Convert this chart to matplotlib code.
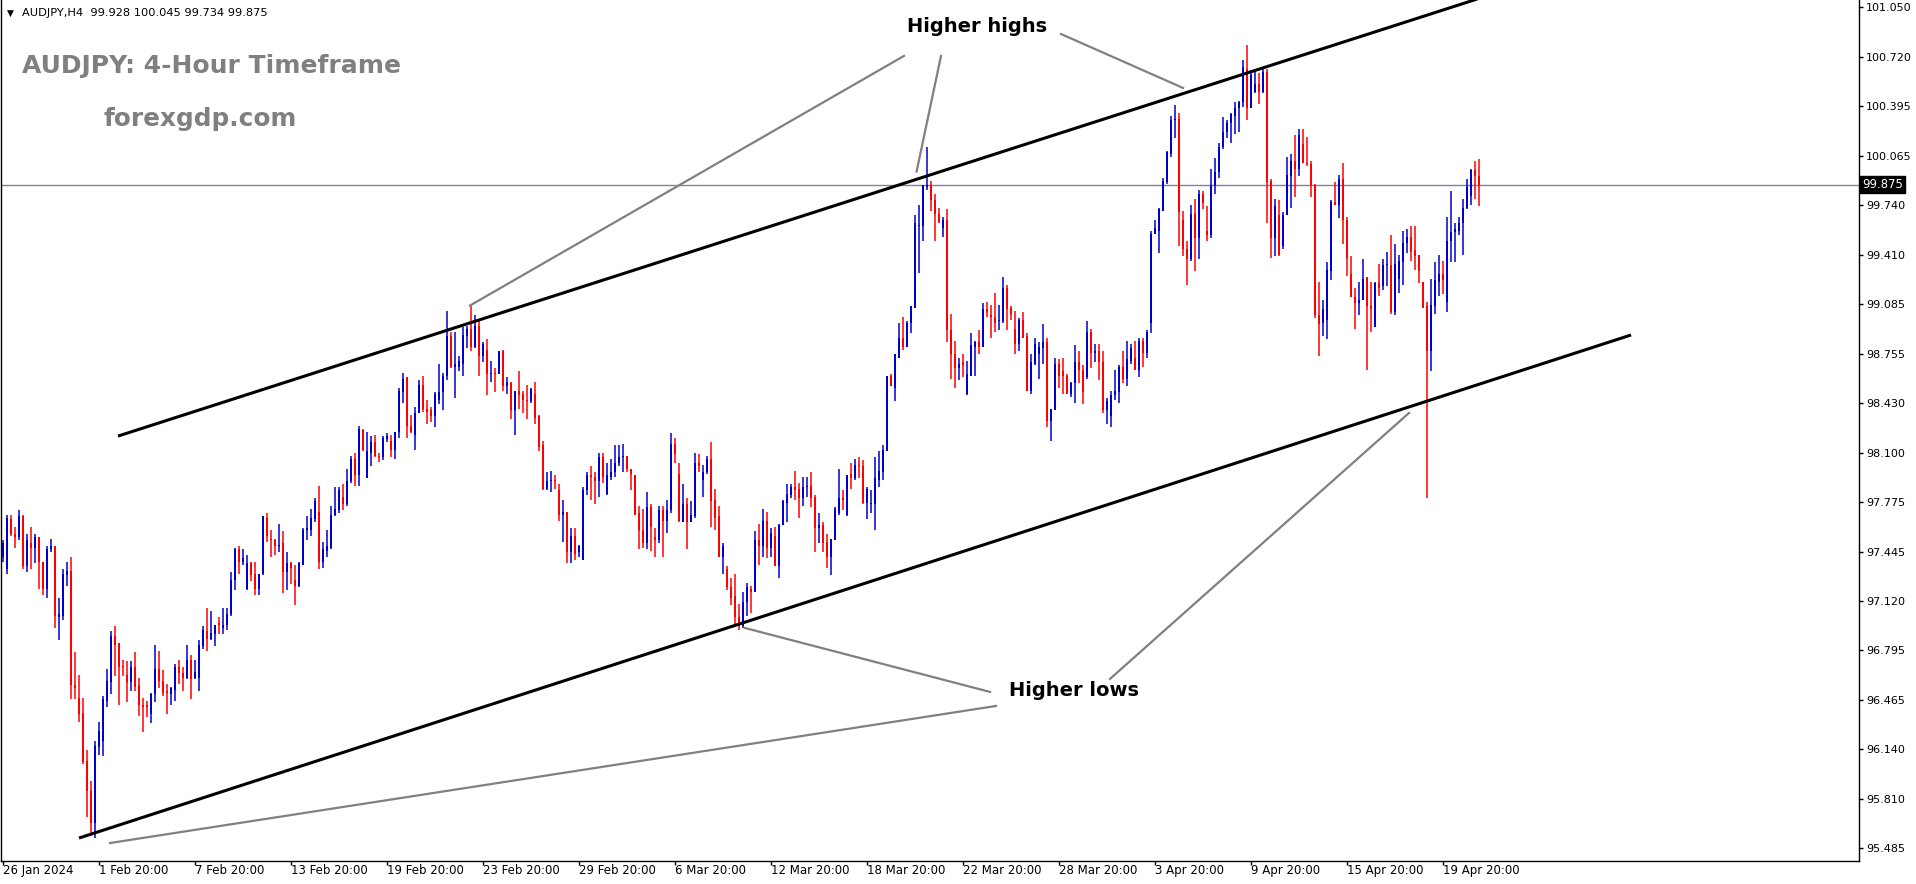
import matplotlib
matplotlib.use("Agg")
import matplotlib.pyplot as plt
import matplotlib.transforms as mtransforms
import numpy as np

# AUDJPY H4 candles (bar 0 = 26 Jan 20:00)
o = [97.41, 97.33, 97.66, 97.56, 97.54, 97.68, 97.35, 97.50, 97.47, 97.54,
     97.38, 97.20, 97.46, 97.48, 97.01, 97.02, 97.29, 97.32, 96.56, 96.48,
     96.38, 96.06, 95.86, 95.65, 96.15, 96.19, 96.46, 96.58, 96.89, 96.84,
     96.69, 96.63, 96.58, 96.68, 96.56, 96.43, 96.43, 96.37, 96.50, 96.67,
     96.59, 96.52, 96.50, 96.53, 96.68, 96.64, 96.61, 96.73, 96.61, 96.61,
     96.82, 96.92, 96.87, 96.90, 96.97, 96.94, 96.96, 97.03, 97.26, 97.46,
     97.38, 97.20, 97.37, 97.30, 97.20, 97.30, 97.67, 97.53, 97.52, 97.48,
     97.50, 97.31, 97.37, 97.26, 97.22, 97.36, 97.59, 97.59, 97.66, 97.71,
     97.38, 97.45, 97.47, 97.69, 97.72, 97.81, 97.76, 97.91, 98.06, 97.95,
     98.25, 97.93, 98.10, 98.17, 98.08, 98.07, 98.19, 98.18, 98.12, 98.24,
     98.50, 98.60, 98.28, 98.22, 98.36, 98.55, 98.39, 98.38, 98.34, 98.45,
     98.50, 98.61, 98.87, 98.67, 98.67, 98.69, 98.87, 98.92, 98.80, 98.94,
     98.74, 98.78, 98.62, 98.63, 98.62, 98.77, 98.54, 98.56, 98.38, 98.51,
     98.49, 98.45, 98.44, 98.49, 98.34, 98.15, 97.86, 97.91, 97.92, 97.85,
     97.69, 97.71, 97.44, 97.55, 97.44, 97.39, 97.85, 97.95, 97.94, 97.91,
     98.07, 97.83, 97.94, 97.97, 98.03, 98.07, 98.08, 97.99, 97.95, 97.70,
     97.59, 97.50, 97.74, 97.54, 97.52, 97.72, 97.65, 97.72, 98.16, 97.96,
     97.64, 97.76, 97.64, 97.68, 98.03, 97.92, 97.97, 98.06, 97.79, 97.68,
     97.41, 97.33, 97.21, 97.15, 97.01, 96.95, 97.11, 97.20, 97.18, 97.52,
     97.48, 97.65, 97.47, 97.55, 97.35, 97.62, 97.77, 97.82, 97.87, 97.86,
     97.80, 97.87, 97.88, 97.81, 97.60, 97.62, 97.51, 97.41, 97.52, 97.70,
     97.80, 97.69, 97.96, 97.93, 98.02, 98.01, 97.77, 97.76, 97.76, 97.92,
     97.97, 98.11, 98.61, 98.53, 98.73, 98.86, 98.80, 98.96, 99.06, 99.60,
     99.60, 99.86, 99.87, 99.77, 99.68, 99.59, 99.64, 98.91, 98.75, 98.66,
     98.70, 98.49, 98.61, 98.80, 98.83, 98.80, 99.05, 99.01, 99.00, 98.97,
     98.97, 99.19, 99.06, 98.92, 98.82, 98.98, 98.87, 98.51, 98.69, 98.75,
     98.79, 98.83, 98.31, 98.38, 98.69, 98.64, 98.61, 98.49, 98.56, 98.70,
     98.65, 98.60, 98.90, 98.76, 98.77, 98.70, 98.38, 98.34, 98.48, 98.50,
     98.67, 98.59, 98.71, 98.73, 98.65, 98.84, 98.76, 98.96, 99.55, 99.57,
     99.70, 99.89, 100.08, 100.30, 100.31, 99.64, 99.45, 99.38, 99.68, 99.52,
     99.81, 99.57, 99.54, 99.87, 99.96, 100.12, 100.22, 100.28, 100.33, 100.38,
     100.42, 100.64, 100.38, 100.49, 100.54, 100.49, 100.62, 99.90, 99.52, 99.67,
     99.47, 99.67, 99.93, 100.03, 99.98, 100.14, 100.02, 100.01, 99.87, 99.01,
     98.96, 98.98, 99.30, 99.76, 99.74, 99.91, 99.64, 99.28, 99.13, 99.09,
     99.11, 99.26, 99.07, 98.93, 99.22, 99.20, 99.34, 99.34, 99.03, 99.25,
     99.36, 99.49, 99.53, 99.44, 99.41, 99.23, 99.07, 98.77, 99.07, 99.23,
     99.28, 99.10, 99.50, 99.56, 99.57, 99.62, 99.72, 99.80, 99.97, 99.928]

h = [97.52, 97.69, 97.69, 97.61, 97.72, 97.69, 97.56, 97.61, 97.56, 97.54,
     97.38, 97.48, 97.53, 97.48, 97.14, 97.33, 97.38, 97.41, 96.78, 96.63,
     96.48, 96.13, 95.93, 96.19, 96.32, 96.49, 96.67, 96.92, 96.95, 96.84,
     96.73, 96.72, 96.72, 96.78, 96.61, 96.48, 96.46, 96.51, 96.83, 96.79,
     96.66, 96.57, 96.55, 96.70, 96.73, 96.68, 96.83, 96.76, 96.73, 96.86,
     96.95, 97.07, 97.05, 96.96, 97.01, 97.07, 97.07, 97.31, 97.47, 97.48,
     97.46, 97.42, 97.38, 97.38, 97.30, 97.68, 97.70, 97.59, 97.53, 97.63,
     97.58, 97.44, 97.38, 97.36, 97.38, 97.60, 97.68, 97.73, 97.80, 97.88,
     97.51, 97.59, 97.75, 97.87, 97.87, 97.89, 97.99, 98.08, 98.10, 98.28,
     98.26, 98.24, 98.21, 98.22, 98.10, 98.21, 98.23, 98.22, 98.24, 98.53,
     98.63, 98.60, 98.35, 98.40, 98.58, 98.61, 98.45, 98.40, 98.50, 98.69,
     98.63, 99.04, 98.90, 98.90, 98.74, 98.93, 98.94, 99.07, 99.01, 98.98,
     98.83, 98.85, 98.71, 98.66, 98.77, 98.78, 98.60, 98.57, 98.51, 98.64,
     98.51, 98.55, 98.53, 98.57, 98.35, 98.18, 97.97, 97.98, 97.95, 97.89,
     97.79, 97.71, 97.60, 97.60, 97.49, 97.87, 97.97, 98.01, 97.97, 98.10,
     98.10, 98.03, 98.06, 98.15, 98.15, 98.16, 98.08, 97.99, 97.95, 97.75,
     97.73, 97.84, 97.76, 97.60, 97.75, 97.75, 97.79, 98.23, 98.20, 98.03,
     97.89, 97.80, 97.78, 98.10, 98.09, 98.02, 98.08, 98.17, 97.86, 97.75,
     97.50, 97.35, 97.27, 97.30, 97.10, 97.18, 97.24, 97.22, 97.58, 97.63,
     97.73, 97.71, 97.60, 97.61, 97.63, 97.79, 97.89, 97.89, 97.98, 97.90,
     97.94, 97.94, 97.97, 97.82, 97.70, 97.64, 97.56, 97.53, 97.74, 97.99,
     97.85, 97.95, 98.03, 98.06, 98.07, 98.05, 97.87, 97.85, 98.07, 98.11,
     98.15, 98.61, 98.62, 98.75, 98.96, 99.00, 98.97, 99.07, 99.67, 99.74,
     99.87, 100.12, 99.90, 99.81, 99.72, 99.66, 99.71, 99.02, 98.84, 98.73,
     98.75, 98.71, 98.89, 98.84, 98.91, 99.09, 99.10, 99.08, 99.16, 99.08,
     99.26, 99.21, 99.07, 99.04, 98.99, 99.03, 98.89, 98.75, 98.86, 98.83,
     98.95, 98.86, 98.39, 98.73, 98.72, 98.73, 98.62, 98.57, 98.81, 98.77,
     98.68, 98.97, 98.92, 98.82, 98.82, 98.77, 98.46, 98.51, 98.65, 98.68,
     98.77, 98.84, 98.82, 98.84, 98.86, 98.86, 98.91, 99.57, 99.64, 99.72,
     99.92, 100.10, 100.33, 100.40, 100.35, 99.70, 99.50, 99.74, 99.78, 99.84,
     99.83, 99.73, 99.98, 100.05, 100.15, 100.32, 100.30, 100.35, 100.42, 100.43,
     100.70, 100.80, 100.63, 100.63, 100.61, 100.65, 100.64, 99.91, 99.78, 99.77,
     99.69, 100.06, 100.08, 100.20, 100.24, 100.24, 100.19, 100.03, 99.88, 99.23,
     99.11, 99.36, 99.77, 99.89, 99.94, 100.02, 99.66, 99.40, 99.19, 99.23,
     99.38, 99.26, 99.23, 99.23, 99.35, 99.38, 99.43, 99.54, 99.48, 99.41,
     99.57, 99.58, 99.60, 99.60, 99.41, 99.23, 99.10, 99.25, 99.36, 99.41,
     99.37, 99.66, 99.83, 99.62, 99.66, 99.78, 99.91, 99.98, 100.03, 100.045]

l = [97.38, 97.30, 97.55, 97.47, 97.52, 97.33, 97.31, 97.33, 97.37, 97.20,
     97.16, 97.14, 97.44, 96.94, 96.86, 96.99, 97.22, 96.47, 96.47, 96.32,
     96.04, 95.69, 95.58, 95.55, 96.10, 96.09, 96.42, 96.50, 96.62, 96.43,
     96.62, 96.45, 96.52, 96.52, 96.36, 96.25, 96.35, 96.31, 96.45, 96.54,
     96.49, 96.37, 96.43, 96.46, 96.57, 96.52, 96.60, 96.47, 96.60, 96.52,
     96.80, 96.79, 96.86, 96.82, 96.90, 96.90, 96.93, 97.02, 97.19, 97.30,
     97.36, 97.19, 97.25, 97.16, 97.16, 97.29, 97.51, 97.41, 97.42, 97.44,
     97.17, 97.19, 97.23, 97.09, 97.21, 97.36, 97.52, 97.55, 97.64, 97.33,
     97.34, 97.41, 97.46, 97.68, 97.70, 97.72, 97.75, 97.90, 97.88, 97.88,
     98.11, 97.93, 98.01, 98.07, 98.04, 98.05, 98.17, 98.07, 98.06, 98.20,
     98.43, 98.20, 98.23, 98.12, 98.36, 98.37, 98.29, 98.30, 98.27, 98.42,
     98.38, 98.58, 98.66, 98.46, 98.64, 98.61, 98.79, 98.77, 98.79, 98.61,
     98.70, 98.48, 98.57, 98.50, 98.62, 98.51, 98.49, 98.32, 98.22, 98.39,
     98.36, 98.32, 98.43, 98.29, 98.11, 97.85, 97.85, 97.84, 97.86, 97.65,
     97.51, 97.37, 97.37, 97.39, 97.41, 97.39, 97.82, 97.79, 97.76, 97.81,
     97.90, 97.82, 97.92, 97.94, 98.01, 97.97, 97.97, 97.85, 97.69, 97.46,
     97.47, 97.46, 97.45, 97.41, 97.50, 97.41, 97.57, 97.70, 98.03, 97.64,
     97.64, 97.46, 97.64, 97.67, 97.97, 97.81, 97.96, 97.61, 97.59, 97.41,
     97.30, 97.19, 97.09, 96.95, 96.93, 96.94, 97.02, 97.04, 97.18, 97.36,
     97.41, 97.40, 97.41, 97.35, 97.27, 97.62, 97.64, 97.80, 97.79, 97.67,
     97.75, 97.81, 97.74, 97.44, 97.50, 97.44, 97.34, 97.29, 97.52, 97.69,
     97.72, 97.68, 97.86, 97.92, 97.93, 97.76, 97.66, 97.70, 97.59, 97.87,
     97.92, 98.11, 98.54, 98.44, 98.73, 98.78, 98.80, 98.89, 99.06, 99.29,
     99.50, 99.84, 99.70, 99.50, 99.62, 99.53, 98.83, 98.59, 98.53, 98.58,
     98.60, 98.48, 98.61, 98.61, 98.75, 98.80, 99.00, 98.86, 98.90, 98.91,
     98.96, 98.91, 98.98, 98.75, 98.77, 98.86, 98.51, 98.49, 98.68, 98.59,
     98.69, 98.27, 98.18, 98.38, 98.53, 98.49, 98.49, 98.47, 98.43, 98.56,
     98.42, 98.59, 98.66, 98.70, 98.58, 98.36, 98.29, 98.27, 98.45, 98.43,
     98.56, 98.54, 98.69, 98.65, 98.60, 98.67, 98.73, 98.89, 99.55, 99.42,
     99.70, 99.88, 100.06, 100.18, 99.47, 99.40, 99.21, 99.37, 99.30, 99.38,
     99.71, 99.50, 99.52, 99.81, 99.92, 100.11, 100.18, 100.15, 100.21, 100.22,
     100.39, 100.30, 100.38, 100.48, 100.41, 100.48, 99.62, 99.39, 99.40, 99.40,
     99.45, 99.67, 99.72, 99.79, 99.93, 100.02, 100.00, 99.79, 98.99, 98.74,
     98.87, 98.85, 99.24, 99.74, 99.65, 99.48, 99.27, 99.13, 98.92, 99.01,
     99.11, 98.65, 98.90, 98.93, 99.14, 99.18, 99.20, 99.02, 99.01, 99.16,
     99.21, 99.42, 99.37, 99.31, 99.22, 99.06, 97.80, 98.64, 99.02, 99.14,
     99.15, 99.03, 99.36, 99.36, 99.54, 99.41, 99.71, 99.74, 99.78, 99.734]

c = [97.50, 97.67, 97.56, 97.54, 97.68, 97.35, 97.52, 97.47, 97.54, 97.38,
     97.20, 97.46, 97.48, 97.02, 97.03, 97.30, 97.32, 96.56, 96.54, 96.37,
     96.05, 95.86, 95.65, 96.16, 96.26, 96.47, 96.59, 96.89, 96.83, 96.68,
     96.68, 96.58, 96.68, 96.55, 96.43, 96.42, 96.42, 96.50, 96.67, 96.59,
     96.51, 96.51, 96.54, 96.68, 96.64, 96.61, 96.73, 96.60, 96.65, 96.83,
     96.93, 96.87, 96.91, 96.96, 96.96, 96.96, 97.03, 97.26, 97.46, 97.38,
     97.40, 97.37, 97.29, 97.20, 97.30, 97.68, 97.55, 97.52, 97.48, 97.49,
     97.31, 97.37, 97.34, 97.22, 97.37, 97.59, 97.60, 97.67, 97.78, 97.38,
     97.46, 97.48, 97.69, 97.73, 97.85, 97.76, 97.91, 98.06, 97.95, 98.26,
     98.12, 98.11, 98.17, 98.08, 98.07, 98.20, 98.21, 98.12, 98.24, 98.51,
     98.59, 98.28, 98.24, 98.36, 98.55, 98.39, 98.37, 98.34, 98.49, 98.50,
     98.61, 98.87, 98.67, 98.69, 98.71, 98.88, 98.92, 98.80, 98.94, 98.74,
     98.82, 98.62, 98.63, 98.62, 98.77, 98.54, 98.57, 98.38, 98.51, 98.48,
     98.45, 98.44, 98.52, 98.33, 98.14, 97.86, 97.91, 97.92, 97.91, 97.69,
     97.71, 97.44, 97.55, 97.43, 97.48, 97.85, 97.95, 97.94, 97.91, 98.07,
     97.94, 97.95, 97.97, 98.03, 98.07, 98.08, 97.99, 97.96, 97.69, 97.59,
     97.50, 97.74, 97.61, 97.52, 97.72, 97.65, 97.72, 98.16, 98.09, 97.65,
     97.76, 97.64, 97.69, 98.03, 98.01, 97.97, 98.06, 97.78, 97.67, 97.41,
     97.48, 97.21, 97.14, 97.01, 96.95, 97.11, 97.21, 97.18, 97.52, 97.48,
     97.65, 97.47, 97.57, 97.35, 97.62, 97.78, 97.83, 97.87, 97.85, 97.80,
     97.87, 97.88, 97.80, 97.60, 97.62, 97.50, 97.41, 97.53, 97.73, 97.80,
     97.79, 97.95, 97.93, 98.02, 98.01, 97.77, 97.86, 97.77, 97.93, 97.98,
     98.12, 98.61, 98.54, 98.75, 98.86, 98.80, 98.96, 99.07, 99.62, 99.61,
     99.87, 99.87, 99.77, 99.68, 99.63, 99.64, 98.91, 98.75, 98.66, 98.69,
     98.68, 98.62, 98.81, 98.83, 98.80, 99.05, 99.03, 99.00, 98.96, 98.98,
     99.19, 99.05, 99.02, 98.82, 98.98, 98.86, 98.51, 98.70, 98.82, 98.80,
     98.83, 98.31, 98.39, 98.69, 98.61, 98.61, 98.49, 98.56, 98.70, 98.65,
     98.50, 98.90, 98.76, 98.77, 98.70, 98.38, 98.44, 98.48, 98.51, 98.67,
     98.59, 98.72, 98.79, 98.65, 98.84, 98.76, 98.90, 99.55, 99.59, 99.71,
     99.90, 100.09, 100.30, 100.31, 99.69, 99.45, 99.38, 99.68, 99.52, 99.81,
     99.75, 99.54, 99.87, 99.96, 100.12, 100.22, 100.28, 100.34, 100.38, 100.42,
     100.65, 100.38, 100.60, 100.54, 100.49, 100.62, 99.89, 99.52, 99.73, 99.41,
     99.67, 99.94, 100.03, 99.98, 100.20, 100.02, 100.01, 99.87, 99.01, 98.95,
     99.05, 99.31, 99.76, 99.74, 99.91, 99.64, 99.39, 99.13, 99.09, 99.11,
     99.25, 99.07, 99.05, 99.22, 99.19, 99.34, 99.34, 99.03, 99.35, 99.37,
     99.49, 99.53, 99.43, 99.40, 99.30, 99.06, 98.77, 99.08, 99.24, 99.28,
     99.24, 99.50, 99.56, 99.58, 99.62, 99.72, 99.86, 99.97, 99.93, 99.875]

last_price = 99.875

# axis labels
price_ticks = [101.050, 100.720, 100.395, 100.065, 99.740, 99.410, 99.085, 98.755, 98.430,
               98.100, 97.775, 97.445, 97.120, 96.795, 96.465, 96.140, 95.810, 95.485]
date_ticks = list(range(0, 361, 24))
date_labels = ["26 Jan 2024", "1 Feb 20:00", "7 Feb 20:00", "13 Feb 20:00", "19 Feb 20:00",
               "23 Feb 20:00", "29 Feb 20:00", "6 Mar 20:00", "12 Mar 20:00", "18 Mar 20:00",
               "22 Mar 20:00", "28 Mar 20:00", "3 Apr 20:00", "9 Apr 20:00", "15 Apr 20:00",
               "19 Apr 20:00"]

# channel trendlines (bar, price)
upper_line = [(28.75, 98.21), (380.0, 101.20)]
lower_line = [(19.0, 95.55), (407.0, 98.879)]

# grey pointer lines from the labels to the swing points
high_pointers = [[(225.25, 100.726), (116.75, 99.074)],
                 [(234.5, 100.726), (228.4, 99.961)],
                 [(264.5, 100.871), (295.0, 100.514)]]
low_pointers = [[(246.75, 96.517), (185.5, 96.94)],
                [(248.25, 96.424), (26.75, 95.517)],
                [(276.75, 96.603), (351.5, 98.363)]]

W, H = 1916, 884
plt.rcParams['font.family'] = ['DejaVu Sans']
fig = plt.figure(figsize=(W / 100, H / 100), dpi=100)
fig.patch.set_facecolor('white')
ax = fig.add_axes([1 / W, (H - 861) / H, (1859 - 1) / W, 861 / H])

x = np.arange(len(c))
o_a, h_a, l_a, c_a = map(np.array, (o, h, l, c))
up = c_a >= o_a
cols = np.where(up, '#0000CD', '#FF0000')

ax.axhline(last_price, color='#778899', lw=1, zorder=1)
ax.vlines(x, l_a, h_a, colors=cols, lw=1.1, zorder=2)
body = np.maximum(np.abs(c_a - o_a), 0.006)
ax.bar(x, body, bottom=np.minimum(o_a, c_a), width=0.74, color=cols, lw=0, zorder=3)

for pts in (upper_line, lower_line):
    ax.plot([p[0] for p in pts], [p[1] for p in pts], color='black', lw=2.2,
            solid_capstyle='butt', zorder=5)
for pts in high_pointers + low_pointers:
    ax.plot([p[0] for p in pts], [p[1] for p in pts], color='#808080', lw=1.6, zorder=5)

ax.set_xlim(-0.5, 464)
ax.set_ylim(95.398, 101.096)

ax.yaxis.tick_right()
ax.set_yticks(price_ticks)
ax.set_yticklabels([f"{v:.3f}" for v in price_ticks])
ax.tick_params(axis='y', length=3, width=1, labelsize=8, pad=2, colors='black')
ax.set_xticks(date_ticks)
ax.set_xticklabels(date_labels, ha='left')
ax.tick_params(axis='x', length=3, width=1, labelsize=8.5, pad=-1)
ax.spines['top'].set_visible(False)
for s in ('left', 'right', 'bottom'):
    ax.spines[s].set_linewidth(1)

trans = mtransforms.blended_transform_factory(ax.transAxes, ax.transData)
ax.text(1.0018, last_price, "99.875", transform=trans, color='white', fontsize=8.4,
        ha='left', va='center', zorder=10,
        bbox=dict(boxstyle='square,pad=0.18', fc='black', ec='black'))


def fx(px):
    return px / W


def fy(py):
    return 1 - py / H


fig.text(fx(7), fy(13), "\u25bc", fontsize=6.5, va='center', ha='left')
fig.text(fx(22), fy(13), "AUDJPY,H4  99.928 100.045 99.734 99.875", fontsize=8.2,
         va='center', ha='left')
fig.text(fx(22), fy(73), "AUDJPY: 4-Hour Timeframe", fontsize=18, weight='bold',
         color='#808080', va='baseline', ha='left')
fig.text(fx(104), fy(126), "forexgdp.com", fontsize=17.8, weight='bold',
         color='#808080', va='baseline', ha='left')
fig.text(fx(977), fy(27), "Higher highs", fontsize=14, weight='bold', ha='center', va='center')
fig.text(fx(1074), fy(691), "Higher lows", fontsize=14, weight='bold', ha='center', va='center')

fig.savefig("out.png", dpi=100)
